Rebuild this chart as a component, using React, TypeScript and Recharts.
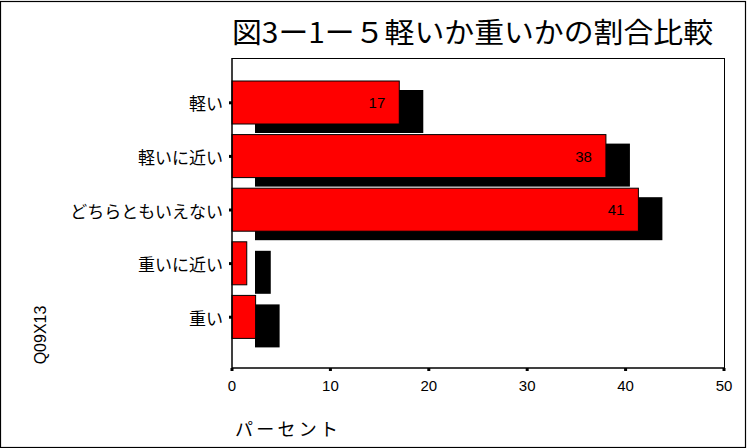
import React from 'react';
import { BarChart, Bar, XAxis, YAxis, LabelList } from 'recharts';

const categories = ['軽い', '軽いに近い', 'どちらともいえない', '重いに近い', '重い'];
const percents = [17.0, 38.0, 41.3, 1.5, 2.4];
const barLabels = ['17', '38', '41', '', ''];
const xTicks = [0, 10, 20, 30, 40, 50];
const titleText = '図3ー1ー５軽いか重いかの割合比較';
const xAxisTitle = 'パーセント';
const yAxisTitle = 'Q09X13';

const data = categories.map((c, i) => ({ name: c, value: percents[i], label: barLabels[i] }));

const JP = '"Noto Sans CJK JP", sans-serif';
const NUM = '"Liberation Sans", Arial, sans-serif';

const SHADOW_DX = 23;
const SHADOW_DY = 9;

const ShadowBar = (props: any) => {
  const { x, y, width, height } = props;
  return (
    <g>
      <rect x={x + SHADOW_DX} y={y + SHADOW_DY} width={width + 1} height={height} fill="#000" />
      <rect x={x} y={y} width={width} height={height} fill="#ff0000" stroke="#000" strokeWidth={1} />
    </g>
  );
};

const XTick = (props: any) => {
  const { x, y, payload } = props;
  return (
    <g>
      <rect x={x - 1.5} y={y} width={3} height={3} fill="#000" />
      <text x={x} y={y + 17} textAnchor="middle" dominantBaseline="central" fontFamily={NUM} fontSize={15} fill="#000">
        {payload.value}
      </text>
    </g>
  );
};

const YTick = (props: any) => {
  const { x, y, payload } = props;
  return (
    <g>
      <rect x={x - 3} y={y - 1.5} width={3} height={3} fill="#000" />
      <text x={x - 9} y={y} textAnchor="end" dominantBaseline="central" fontFamily={JP} fontSize={17} fill="#000">
        {payload.value}
      </text>
    </g>
  );
};

const BarText = (props: any) => {
  const { x, y, width, height, value } = props;
  if (!value) return null;
  return (
    <text x={x + width - 14} y={y + height / 2} textAnchor="end" dominantBaseline="central" fontFamily={NUM} fontSize={15} fill="#000">
      {value}
    </text>
  );
};

export default function App() {
  return (
    <div style={{ position: 'absolute', left: 0, top: 0, width: 748, height: 448, background: '#fff' }}>
      <BarChart
        width={748}
        height={448}
        data={data}
        layout="vertical"
        margin={{ top: 58, right: 24, bottom: 50, left: 0 }}
      >
        <XAxis
          type="number"
          domain={[0, 50]}
          ticks={xTicks}
          interval={0}
          height={30}
          axisLine={{ stroke: '#000', strokeWidth: 1 }}
          tickLine={false}
          tickSize={0}
          tickMargin={0}
          tick={<XTick />}
        />
        <YAxis
          type="category"
          dataKey="name"
          width={232}
          padding={{ top: 18, bottom: 24 }}
          axisLine={{ stroke: '#000', strokeWidth: 1 }}
          tickLine={false}
          tickSize={0}
          tickMargin={0}
          interval={0}
          tick={<YTick />}
        />
        <Bar dataKey="value" barSize={43} shape={<ShadowBar />} isAnimationActive={false}>
          <LabelList dataKey="label" content={<BarText />} />
        </Bar>
      </BarChart>
      <svg
        width={748}
        height={448}
        style={{ position: 'absolute', left: 0, top: 0, pointerEvents: 'none' }}
      >
        <rect x={0.5} y={1.5} width={745} height={446} fill="none" stroke="#000" strokeWidth={1.2} />
        <rect x={232} y={58.5} width={492.5} height={309.5} fill="none" stroke="#000" strokeWidth={1} />
        <text x={232} y={31} dominantBaseline="central" fontFamily={JP} fontSize={28} fill="#000" textLength={481} lengthAdjust="spacingAndGlyphs">
          {titleText}
        </text>
        <text x={235} y={428} dominantBaseline="central" fontFamily={JP} fontSize={18} fill="#000" textLength={103} lengthAdjust="spacing">
          {xAxisTitle}
        </text>
        <text x={40} y={335} transform="rotate(-90 40 335)" textAnchor="middle" dominantBaseline="central" fontFamily={NUM} fontSize={16} fill="#000">
          {yAxisTitle}
        </text>
      </svg>
    </div>
  );
}
